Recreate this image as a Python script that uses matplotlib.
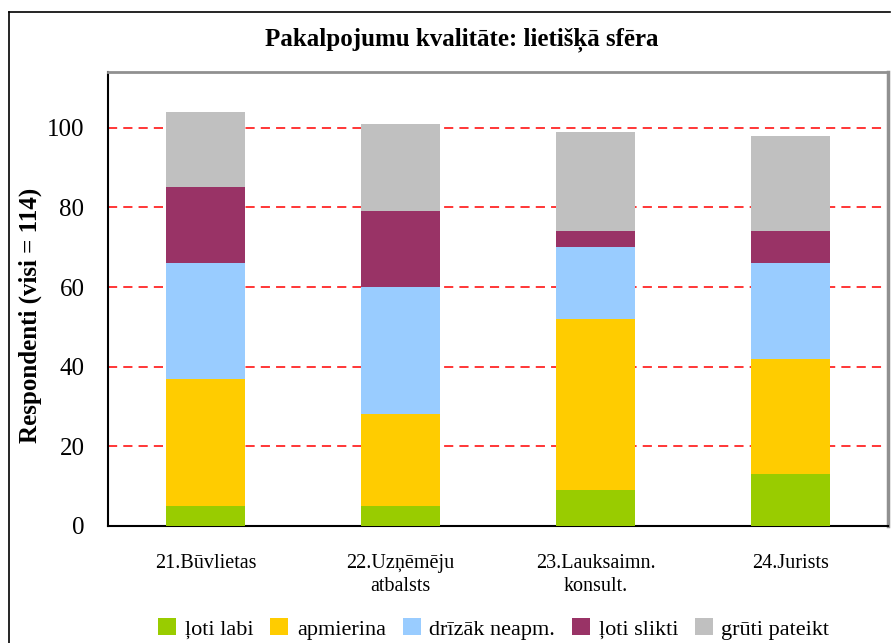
import matplotlib

matplotlib.use("Agg")
import matplotlib.pyplot as plt  # noqa: E402
from matplotlib.lines import Line2D  # noqa: E402
from matplotlib.patches import Patch  # noqa: E402

plt.rcParams["font.family"] = ["Liberation Serif", "DejaVu Serif"]

categories = ["21.Būvlietas", "22.Uzņēmēju\natbalsts", "23.Lauksaimn.\nkonsult.", "24.Jurists"]
series_names = ["ļoti labi", "apmierina", "drīzāk neapm.", "ļoti slikti", "grūti pateikt"]
loti_labi = [5, 5, 9, 13]
apmierina = [32, 23, 43, 29]
drizak_neapm = [29, 32, 18, 24]
loti_slikti = [19, 19, 4, 8]
gruti_pateikt = [19, 22, 25, 24]
yticks = [0, 20, 40, 60, 80, 100]

COLORS = ["#99CC00", "#FFCC00", "#99CCFF", "#993366", "#C0C0C0"]

fig = plt.figure(figsize=(8.91, 6.43), dpi=100)
ax = fig.add_axes([108 / 891, 1 - 526 / 643, 780 / 891, 454 / 643])

# outer chart frame
fig.add_artist(Line2D([9 / 891, 9 / 891], [0, 1 - 12 / 643], color="black", lw=1.2))
fig.add_artist(Line2D([9 / 891, 890 / 891], [1 - 12 / 643, 1 - 12 / 643], color="black", lw=1.2))

x = range(len(categories))
bottom = [0] * len(categories)
for name, vals, col in zip(series_names,
                           [loti_labi, apmierina, drizak_neapm, loti_slikti, gruti_pateikt],
                           COLORS):
    ax.bar(x, vals, bottom=bottom, width=0.41, color=col, edgecolor="none", zorder=3)
    bottom = [b + v for b, v in zip(bottom, vals)]

for t in yticks[1:]:
    ax.axhline(t, color="#FF0000", lw=1.1, dashes=(6, 4), zorder=1)

ax.set_xlim(-0.5, len(categories) - 0.5)
ax.set_ylim(0, 114)
ax.set_yticks(yticks)
ax.set_yticklabels([str(t) for t in yticks], fontsize=18)
ax.set_xticks(list(x))
ax.set_xticklabels(categories, fontsize=14.5, linespacing=1.3)
ax.tick_params(axis="both", length=0)
ax.tick_params(axis="y", pad=17)
ax.tick_params(axis="x", pad=20)
for lbl in ax.get_xticklabels():
    lbl.set_verticalalignment("top")

ax.spines["left"].set_color("black")
ax.spines["bottom"].set_color("black")
ax.spines["left"].set_linewidth(1.5)
ax.spines["bottom"].set_linewidth(1.5)
ax.spines["top"].set_color("#909090")
ax.spines["right"].set_color("#909090")
ax.spines["top"].set_linewidth(2)
ax.spines["right"].set_linewidth(2.5)

ax.set_ylabel("Respondenti (visi = 114)", fontsize=18, fontweight="bold",
              va="center")
ax.yaxis.set_label_coords((30 - 108) / 780, (526 - 315) / 454)
fig.text(462 / 891, 1 - 40 / 643, "Pakalpojumu kvalitāte: lietišķā sfēra",
         ha="center", va="center", fontsize=18, fontweight="bold")

handles = [Patch(facecolor=c, edgecolor="none") for c in COLORS]
fig.legend(handles, series_names, loc="center", bbox_to_anchor=(494 / 891, 1 - 629 / 643),
           ncol=5, frameon=False, fontsize=16, handlelength=0.8, handleheight=0.8,
           handletextpad=0.4, columnspacing=0.75)

fig.savefig("out.png", dpi=100)
